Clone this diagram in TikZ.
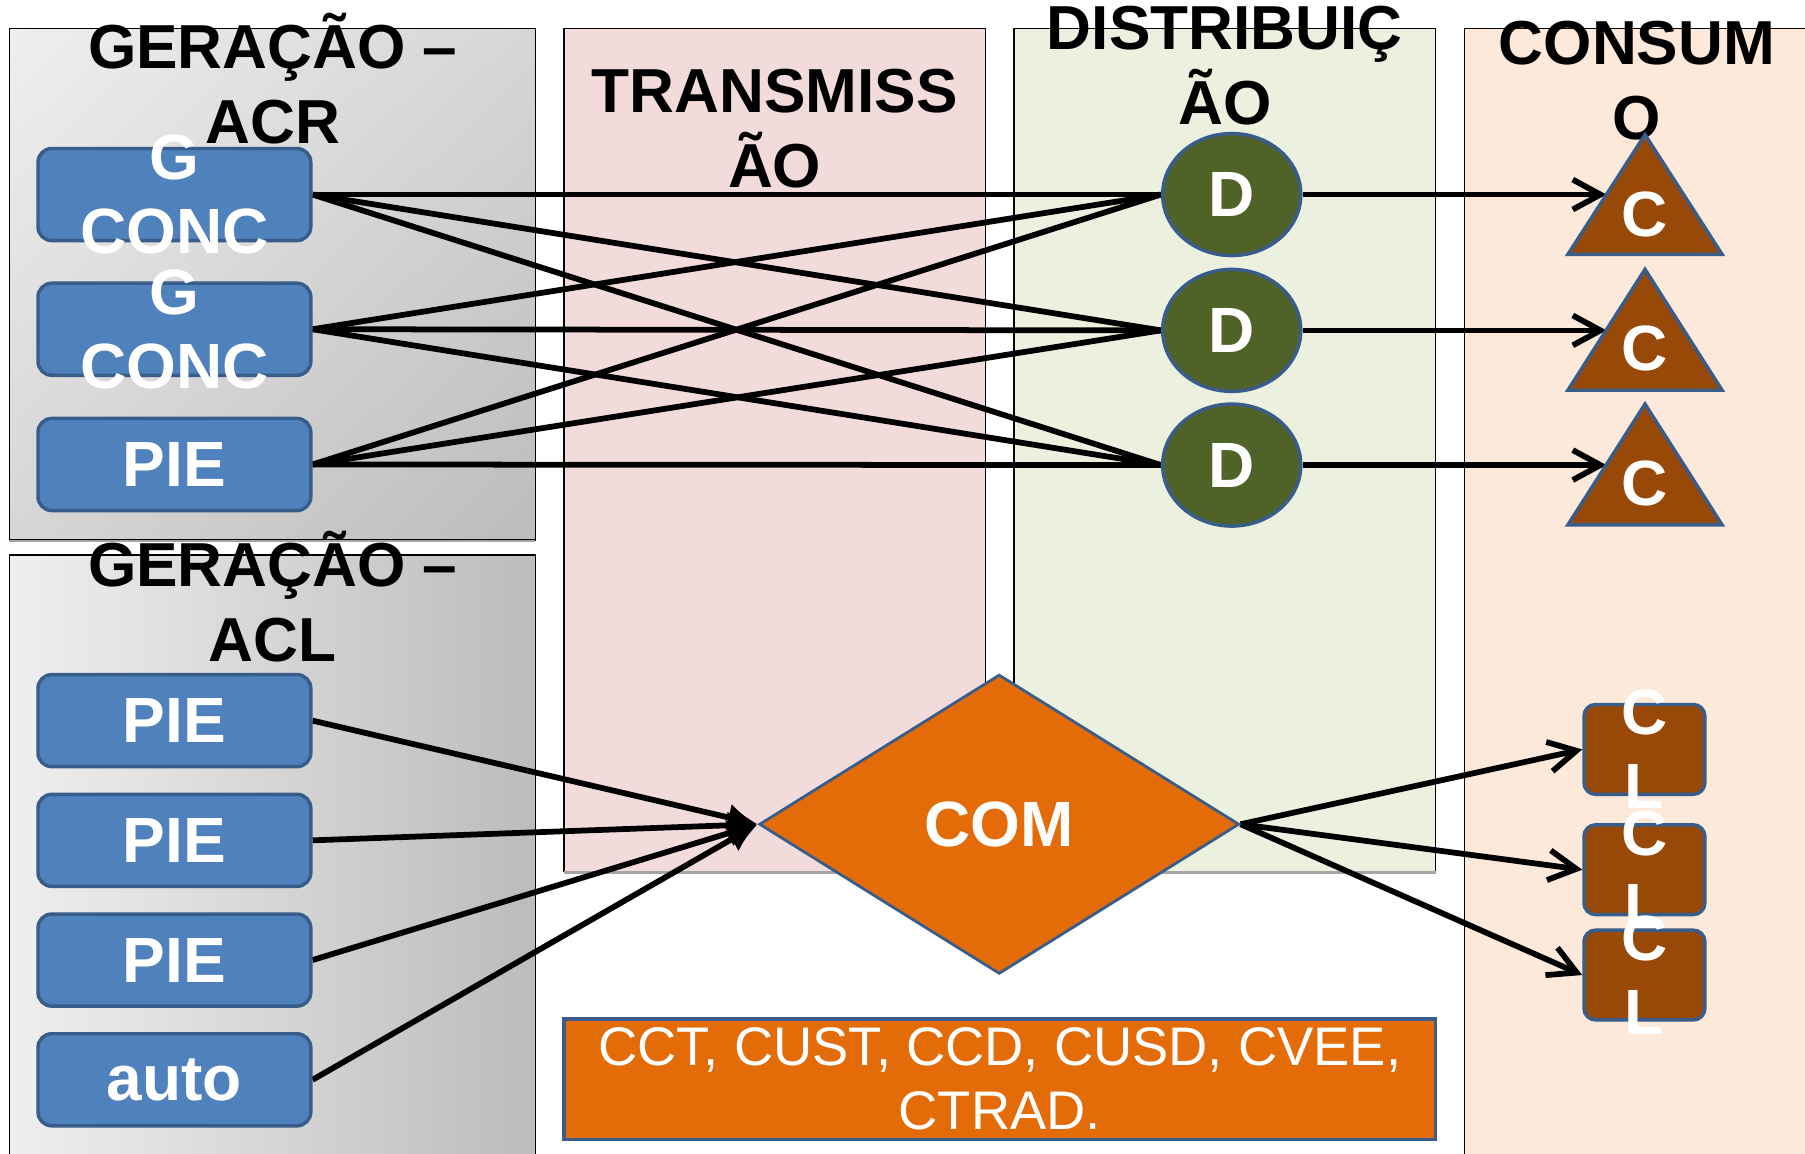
\documentclass[tikz,border=0pt]{standalone}
\usepackage{fontspec}
\setmainfont{Liberation Sans}
\usetikzlibrary{shapes.geometric,arrows.meta,shadings}
\definecolor{boxblue}{HTML}{4F81BD}
\definecolor{edgeblue}{HTML}{385D8A}
\definecolor{dgreen}{HTML}{4F6228}
\definecolor{cbrown}{HTML}{984807}
\definecolor{comorange}{HTML}{E36C09}
\definecolor{transpink}{HTML}{F2DCDB}
\definecolor{distgreen}{HTML}{EBF1DE}
\definecolor{conspeach}{HTML}{FDE9D9}
\definecolor{gA}{HTML}{EFEFEF}
\definecolor{gB}{HTML}{D6D6D6}
\definecolor{gC}{HTML}{BCBCBC}
\pgfdeclarelayer{panels}
\pgfdeclarelayer{wires}
\pgfsetlayers{panels,wires,main}
\newcommand{\titlefont}{\fontsize{27}{32.5}\selectfont\bfseries}
\newcommand{\bigfont}{\fontsize{27.8}{32}\selectfont\bfseries}
\begin{document}
\begin{tikzpicture}[x=0.5pt,y=-0.5pt,
  panel/.style={draw=black, line width=0.6pt},
  title/.style={font=\titlefont, align=center, text=black, inner sep=0pt},
  boxlabel/.style={font=\bigfont, align=center, text=white, inner sep=0pt},
  gen/.style={draw=edgeblue, line width=1.5pt, fill=boxblue, rounded corners=6pt,
    minimum width=118.5pt, minimum height=40pt, inner sep=0pt, text=white, font=\bigfont},
  dist/.style={ellipse, draw=edgeblue, line width=1.5pt, fill=dgreen,
    minimum width=60pt, minimum height=53pt, inner sep=0pt, text=white, font=\bigfont},
  tri/.style={draw=edgeblue, line width=1.5pt, fill=cbrown, line join=miter},
  trilabel/.style={text=white, font=\bigfont, inner sep=0pt},
  free/.style={draw=edgeblue, line width=1.5pt, fill=cbrown, rounded corners=5pt,
    minimum width=52.5pt, minimum height=39pt, inner sep=0pt},
  com/.style={diamond, draw=edgeblue, line width=1.2pt, fill=comorange,
    minimum width=208.5pt, minimum height=130pt, inner sep=0pt, text=white, font=\bigfont},
  fees/.style={draw=edgeblue, line width=1.5pt, fill=comorange, minimum width=378.5pt,
    minimum height=52.5pt, inner sep=0pt, text=white, align=center,
    font=\fontsize{23.6}{27.8}\selectfont},
  wire/.style={line width=2.5pt, black},
  barb/.style={wire, -{Straight Barb[length=12pt,width=13pt]}},
  feed/.style={wire, -{Latex[length=13pt,width=12pt]}}
]
\useasboundingbox (0,0) rectangle (1568,1002);

% ---------- panels ----------
\begin{pgfonlayer}{panels}
\begin{scope}
\clip (0,0) rectangle (1568,1002);
\shade[upper left=gA, upper right=gB, lower left=gB, lower right=gC] (8,25) rectangle (465,469);
\draw[panel] (8,25) rectangle (465,469);
\draw[gray!70, line width=1.2pt] (8,470) -- (465,470);
\shade[left color=gA, right color=gC] (8,482) rectangle (465,1020);
\draw[panel] (8,1020) -- (8,482) -- (465,482) -- (465,1020);
\fill[transpink] (490,25) rectangle (856,757);
\draw[panel] (490,25) rectangle (856,757);
\draw[gray!70, line width=1.2pt] (490,758) -- (856,758);
\fill[distgreen] (881,25) rectangle (1247,757);
\draw[panel] (881,25) rectangle (1247,757);
\draw[gray!70, line width=1.2pt] (881,758) -- (1247,758);
\fill[conspeach] (1272,25) rectangle (1580,1020);
\draw[panel] (1272,1020) -- (1272,25) -- (1580,25);
\end{scope}
\node[title] (tacr)   at (237,68)    {GERAÇÃO –\\ACR};
\node[title] (ttrans) at (673,112)   {TRANSMISS\\ÃO};
\node[title] (tdist)  at (1064,57)   {DISTRIBUIÇ\\ÃO};
\node[title] (tcons)  at (1422,70)   {CONSUM\\O};
\node[title] (tacl)   at (237,518)   {GERAÇÃO –\\ACL};
\end{pgfonlayer}

% ---------- ACR generators ----------
\node[gen, label={[boxlabel]center:{G\\CONC}}] (g1) at (151.5,169) {};
\node[gen, label={[boxlabel]center:{G\\CONC}}] (g2) at (151.5,286) {};
\node[gen] (g3) at (151.5,403.5) {PIE};

% ---------- distributors ----------
\node[dist] (d1) at (1070,169) {D};
\node[dist] (d2) at (1070,287) {D};
\node[dist] (d3) at (1070,404) {D};

% ---------- consumers (triangles) ----------
\draw[tri] (1429,117) -- (1496,221) -- (1362,221) -- cycle;
\draw[tri] (1429,234) -- (1496,339) -- (1362,339) -- cycle;
\draw[tri] (1429,351) -- (1496,456) -- (1362,456) -- cycle;
\node[trilabel] (c1) at (1429,186) {C};
\node[trilabel] (c2) at (1429,303) {C};
\node[trilabel] (c3) at (1429,420) {C};
\coordinate (c1in) at (1395.5,169);
\coordinate (c2in) at (1395.5,287);
\coordinate (c3in) at (1395.5,404);

% ---------- ACL generators ----------
\node[gen] (a1) at (151.5,626) {PIE};
\node[gen] (a2) at (151.5,730) {PIE};
\node[gen] (a3) at (151.5,834) {PIE};
\node[gen] (a4) at (151.5,938) {auto};

% ---------- commercialisation ----------
\node[com] (com) at (868,716) {COM};

% ---------- free consumers ----------
\node[free, label={[boxlabel]center:{C\\L}}] (l1) at (1428.5,651) {};
\node[free, label={[boxlabel]center:{C\\L}}] (l2) at (1428.5,755.5) {};
\node[free, label={[boxlabel]center:{C\\L}}] (l3) at (1428.5,847) {};

% ---------- charges ----------
\node[fees] (fee) at (868.5,937.5) {CCT, CUST, CCD, CUSD, CVEE,\\CTRAD.};

% ---------- connectors ----------
\begin{pgfonlayer}{wires}
\foreach \g in {g1,g2,g3}{
  \foreach \d in {d1,d2,d3}{
    \draw[wire] (\g.east) -- (\d.west);
  }
}
\draw[barb] (d1.east) -- (c1in);
\draw[barb] (d2.east) -- (c2in);
\draw[barb] (d3.east) -- (c3in);
\draw[feed] (a1.east) -- (com.west);
\draw[feed] (a2.east) -- (com.west);
\draw[feed] (a3.east) -- (com.west);
\draw[feed] (a4.east) -- (com.west);
\draw[barb] (com.east) -- (l1.west);
\draw[barb] (com.east) -- (l2.west);
\draw[barb] (com.east) -- (l3.west);
\end{pgfonlayer}
\end{tikzpicture}
\end{document}
